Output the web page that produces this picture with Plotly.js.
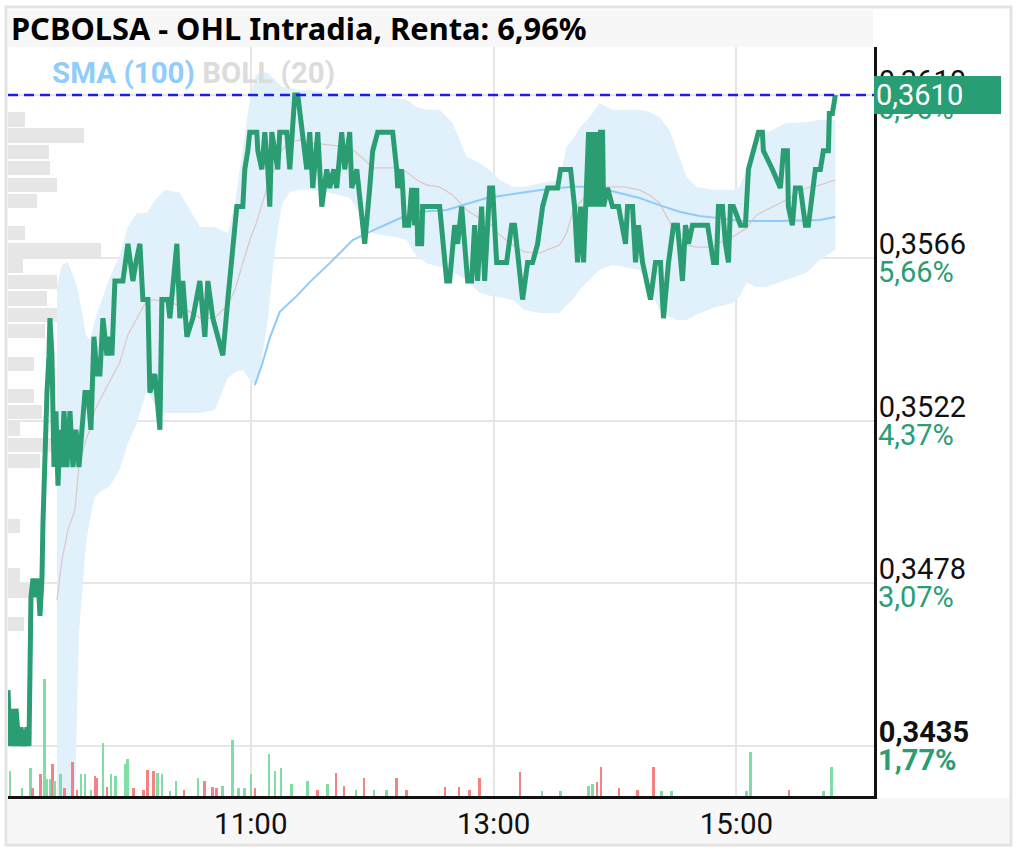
<!DOCTYPE html>
<html><head><meta charset="utf-8">
<script src="https://cdn.plot.ly/plotly-3.0.1.min.js"></script>
<style>html,body{margin:0;padding:0;background:#fff}#chart{width:1017px;height:851px}</style>
</head><body><div id="chart"></div>
<script>
const DAY = '2023-05-10 ';
const chartTitle = 'PCBOLSA - OHL Intradia, Renta: 6,96%';
const legendSMA = 'SMA (100)';
const legendBOLL = 'BOLL (20)';
const lastPrice = 0.3610;
const lastPriceLabel = '0,3610';

const priceTimes = ['09:00:00','09:00:59','09:01:59','09:02:58','09:03:57','09:05:26','09:06:25','09:07:54','09:09:23','09:10:22',
'09:11:21','09:12:21','09:13:50','09:14:49','09:15:48','09:16:47','09:17:17','09:18:16','09:19:16','09:20:15',
'09:20:44','09:21:44','09:22:43','09:23:42','09:24:42','09:25:41','09:26:40','09:27:39','09:29:08','09:30:37',
'09:32:06','09:33:35','09:35:04','09:36:33','09:38:02','09:39:30','09:40:59','09:42:28','09:43:57','09:45:26',
'09:46:55','09:48:53','09:50:22','09:51:22','09:52:50','09:55:48','09:56:47','09:59:16','10:01:44','10:03:13',
'10:05:11','10:06:40','10:09:08','10:10:07','10:12:36','10:15:04','10:16:03','10:19:01','10:20:00','10:23:27',
'10:24:56','10:26:25','10:28:24','10:31:22','10:34:49','10:37:17','10:38:46','10:41:14','10:43:42','10:46:10',
'10:48:39','10:51:07','10:53:05','10:56:03','10:57:02','10:58:31','10:59:30','11:02:58','11:03:28','11:05:26',
'11:06:55','11:08:24','11:09:23','11:10:22','11:13:20','11:14:19','11:16:48','11:17:47','11:19:16','11:20:15',
'11:21:44','11:23:13','11:25:11','11:27:39','11:29:08','11:30:37','11:33:05','11:35:04','11:37:32','11:39:01',
'11:40:59','11:42:28','11:44:56','11:46:25','11:48:53','11:49:53','11:52:21','11:53:20','11:56:18','11:58:46',
'12:00:15','12:02:43','12:10:08','12:12:06','12:12:36','12:14:34','12:16:03','12:18:02','12:19:31','12:20:59',
'12:21:59','12:22:28','12:24:27','12:24:56','12:31:51','12:33:20','12:36:48','12:38:16','12:40:45','12:42:14',
'12:44:12','12:47:10','12:49:08','12:50:37','12:52:06','12:54:05','12:55:34','12:58:02','12:59:31','13:01:30',
'13:06:26','13:08:54','13:10:23','13:14:20','13:16:49','13:19:17','13:21:45','13:24:13','13:26:41','13:31:37',
'13:33:06','13:38:03','13:40:01','13:41:30','13:42:59','13:44:28','13:46:56','13:47:55','13:48:55','13:49:54',
'13:50:53','13:51:52','13:52:52','13:53:51','13:54:20','13:56:18','13:58:47','14:01:45','14:05:12','14:06:12',
'14:08:40','14:10:09','14:11:37','14:13:36','14:17:33','14:20:01','14:22:29','14:23:58','14:26:27','14:28:55',
'14:30:53','14:33:21','14:34:50','14:36:19','14:38:18','14:39:47','14:45:46','14:48:40','14:50:08','14:51:07',
'14:53:06','14:54:35','14:56:04','14:57:03','14:58:32','15:01:59','15:04:27','15:05:56','15:08:24','15:10:53',
'15:12:51','15:13:21','15:17:47','15:21:44','15:23:13','15:25:12','15:25:41','15:27:40','15:29:09','15:31:37',
'15:34:05','15:35:34','15:39:01','15:41:30','15:42:58','15:45:27','15:45:56','15:47:25','15:48:54'];

const prices = [0.3450,0.3435,0.3445,0.3435,0.3445,0.3435,0.3440,0.3435,0.3440,0.3435,
0.3475,0.3480,0.3475,0.3480,0.3470,0.3480,0.3495,0.3515,0.3530,0.3540,
0.3550,0.3540,0.3510,0.3525,0.3505,0.3520,0.3510,0.3525,0.3510,0.3525,
0.3510,0.3520,0.3510,0.3520,0.3530,0.3530,0.3520,0.3545,0.3535,0.3535,
0.3550,0.3540,0.3545,0.3540,0.3560,0.3560,0.3560,0.3570,0.3560,0.3565,
0.3570,0.3555,0.3555,0.3530,0.3535,0.3520,0.3555,0.3555,0.3550,0.3570,
0.3550,0.3560,0.3545,0.3550,0.3560,0.3545,0.3560,0.3550,0.3545,0.3540,
0.3555,0.3570,0.3580,0.3580,0.3590,0.3595,0.3600,0.3600,0.3595,0.3590,
0.3600,0.3590,0.3580,0.3600,0.3590,0.3600,0.3600,0.3600,0.3590,0.3600,
0.3610,0.3610,0.3600,0.3590,0.3600,0.3585,0.3600,0.3580,0.3590,0.3585,
0.3590,0.3585,0.3600,0.3590,0.3600,0.3585,0.3590,0.3585,0.3570,0.3585,
0.3595,0.3600,0.3600,0.3590,0.3585,0.3590,0.3575,0.3575,0.3585,0.3575,
0.3585,0.3570,0.3570,0.3580,0.3580,0.3580,0.3560,0.3560,0.3575,0.3570,
0.3580,0.3560,0.3560,0.3575,0.3560,0.3580,0.3560,0.3585,0.3585,0.3565,
0.3565,0.3575,0.3575,0.3555,0.3565,0.3565,0.3570,0.3580,0.3585,0.3585,
0.3590,0.3590,0.3580,0.3565,0.3580,0.3565,0.3600,0.3580,0.3600,0.3580,
0.3600,0.3580,0.3600,0.3600,0.3580,0.3585,0.3580,0.3580,0.3570,0.3580,
0.3580,0.3565,0.3575,0.3565,0.3555,0.3565,0.3565,0.3550,0.3565,0.3575,
0.3575,0.3560,0.3575,0.3570,0.3575,0.3575,0.3575,0.3565,0.3565,0.3580,
0.3580,0.3570,0.3565,0.3580,0.3580,0.3575,0.3575,0.3590,0.3595,0.3600,
0.3600,0.3595,0.3590,0.3585,0.3595,0.3595,0.3580,0.3575,0.3585,0.3585,
0.3575,0.3575,0.3590,0.3590,0.3595,0.3595,0.3605,0.3605,0.3610];

const bandTimes = ['09:24:12','09:26:40','09:29:38','09:33:05','09:35:04','09:38:31','09:40:30','09:42:58','09:45:26','09:50:22',
'09:55:19','09:59:16','10:03:42','10:08:39','10:12:36','10:17:32','10:24:56','10:29:53','10:34:49','10:42:13',
'10:48:39','10:52:06','10:56:03','10:59:30','11:02:28','11:05:26','11:08:24','11:11:51','11:15:19','11:19:16',
'11:24:12','11:29:08','11:39:01','11:48:53','11:56:18','12:00:15','12:03:42','12:11:07','12:17:02','12:21:59',
'12:26:55','12:33:20','12:39:45','12:46:40','12:53:05','12:58:02','13:02:58','13:09:23','13:15:19','13:22:43',
'13:32:36','13:36:03','13:39:01','13:42:28','13:47:25','13:52:21','13:58:46','14:04:42','14:12:06','14:17:02',
'14:21:58','14:26:55','14:30:22','14:35:19','14:40:15','14:48:09','14:54:05','14:58:02','15:01:29','15:04:57',
'15:09:53','15:14:49','15:24:42','15:34:35','15:41:00','15:48:54'];

const bandUpper = [0.35589,0.35643,0.35651,0.35603,0.35562,0.35455,0.35441,0.35495,0.35535,0.35611,
0.35670,0.35745,0.35783,0.35783,0.35818,0.35845,0.35837,0.35791,0.35745,0.35745,
0.35729,0.35804,0.35952,0.36087,0.36154,0.36162,0.36159,0.36140,0.36122,0.36119,
0.36113,0.36113,0.36105,0.36105,0.36105,0.36103,0.36097,0.36092,0.36087,0.36068,
0.36060,0.36060,0.36025,0.35933,0.35917,0.35898,0.35872,0.35853,0.35853,0.35863,
0.35872,0.35960,0.35979,0.36011,0.36041,0.36078,0.36060,0.36060,0.36060,0.36054,
0.36041,0.36006,0.35952,0.35880,0.35853,0.35845,0.35845,0.35845,0.35853,0.35898,
0.35979,0.35998,0.36025,0.36027,0.36033,0.36033];

const bandMid = [0.34742,0.34850,0.34931,0.34984,0.35105,0.35173,0.35200,0.35253,0.35280,0.35329,
0.35382,0.35455,0.35501,0.35549,0.35549,0.35544,0.35535,0.35517,0.35501,0.35501,
0.35535,0.35576,0.35651,0.35710,0.35751,0.35804,0.35858,0.35904,0.35952,0.35974,
0.35979,0.35971,0.35966,0.35960,0.35925,0.35904,0.35904,0.35904,0.35893,0.35872,
0.35858,0.35853,0.35831,0.35791,0.35769,0.35756,0.35724,0.35697,0.35678,0.35675,
0.35697,0.35729,0.35783,0.35810,0.35837,0.35853,0.35853,0.35853,0.35845,0.35831,
0.35810,0.35759,0.35724,0.35697,0.35691,0.35691,0.35710,0.35718,0.35729,0.35742,
0.35777,0.35791,0.35818,0.35850,0.35858,0.35872];

const bandLower = [0.33896,0.34057,0.34205,0.34205,0.34654,0.34893,0.34960,0.35019,0.35033,0.35049,
0.35095,0.35164,0.35218,0.35307,0.35267,0.35245,0.35245,0.35245,0.35245,0.35253,
0.35339,0.35355,0.35361,0.35334,0.35320,0.35388,0.35495,0.35683,0.35804,0.35839,
0.35845,0.35845,0.35837,0.35823,0.35764,0.35729,0.35724,0.35718,0.35710,0.35665,
0.35648,0.35638,0.35624,0.35603,0.35568,0.35560,0.35557,0.35549,0.35522,0.35514,
0.35514,0.35535,0.35549,0.35576,0.35603,0.35630,0.35643,0.35638,0.35630,0.35584,
0.35522,0.35503,0.35495,0.35495,0.35509,0.35527,0.35535,0.35541,0.35557,0.35595,
0.35584,0.35584,0.35603,0.35622,0.35656,0.35683];

const smaTimes = ['11:01:59','11:05:26','11:09:23','11:14:19','11:22:43','11:29:08','11:39:01','11:45:26','11:50:22','11:58:46',
'12:07:10','12:15:04','12:23:27','12:36:48','12:46:40','12:56:32','13:06:26','13:16:17','13:26:41','13:39:01',
'13:47:25','13:55:48','14:03:42','14:12:06','14:21:58','14:31:51','14:41:45','14:51:38','15:01:29','15:21:14',
'15:41:00','15:48:54'];
const smaValues = [0.35320,0.35374,0.35447,0.35517,0.35560,0.35597,0.35648,0.35683,0.35710,0.35732,
0.35753,0.35772,0.35786,0.35791,0.35807,0.35823,0.35831,0.35839,0.35847,0.35853,
0.35853,0.35845,0.35834,0.35823,0.35804,0.35786,0.35775,0.35769,0.35761,0.35761,
0.35764,0.35772];

const volTimes = ['09:01','09:07','09:11','09:12','09:16','09:18','09:19','09:21','09:22','09:23',
'09:26','09:28','09:32','09:34','09:36','09:38','09:41','09:43','09:44','09:47',
'09:49','09:51','09:53','09:58','09:59','10:02','10:07','10:09','10:12','10:14',
'10:16','10:20','10:23','10:27','10:34','10:37','10:41','10:43','10:46','10:51',
'10:54','10:57','11:00','11:02','11:09','11:12','11:15','11:20','11:28','11:33',
'11:38','11:42','11:46','11:52','11:56','12:01','12:07','12:12','12:17','12:36',
'12:43','12:48','12:53','13:13','13:24','13:33','13:47','13:49','13:51','13:53',
'14:02','14:11','14:19','14:23','14:28','15:05','15:07','15:26','15:43','15:47'];
const volumes = [25000,8000,28000,8000,22000,117000,17000,17000,32000,15000,
22000,8000,34000,6000,22000,22000,6000,20000,18000,53000,
9000,22000,20000,32000,37000,8000,6000,26000,25000,23000,
22000,5000,15000,6000,18000,15000,9000,8000,10000,56000,
8000,8000,22000,8000,42000,25000,28000,12000,15000,6000,
12000,23000,10000,6000,18000,6000,6000,18000,6000,9000,
9000,6000,18000,24000,5000,5000,10000,12000,14000,29000,
8000,6000,29000,5000,5000,5000,44000,6000,5000,29000];
const volDir = [1,1,1,-1,-1,1,1,1,-1,1,
1,-1,-1,-1,1,1,1,-1,-1,1,
-1,1,1,1,1,-1,-1,-1,-1,1,
1,1,1,-1,1,-1,-1,-1,1,1,
1,1,1,-1,1,1,1,1,1,-1,
1,-1,-1,1,-1,1,1,-1,-1,-1,
-1,-1,-1,-1,1,1,1,1,-1,-1,
-1,-1,-1,1,1,1,1,-1,1,1];

const profilePrices = [0.36034,0.35991,0.35947,0.35903,0.35859,0.35816,0.35728,0.35684,0.35641,0.35597,
0.35553,0.35509,0.35466,0.35378,0.35291,0.35247,0.35203,0.35159,0.35116,0.34941,0.34809,0.34766,0.34678];
const profileVolumes = [170000,760000,410000,420000,490000,290000,170000,930000,150000,490000,
390000,550000,370000,260000,260000,340000,120000,430000,320000,120000,120000,230000,160000];

const tickPrices = [0.3435,0.347875,0.35225,0.356625,0.3610];
const tickPriceLabels = ['0,3435','0,3478','0,3522','0,3566','0,3610'];
const tickPctLabels = ['1,77%','3,07%','4,37%','5,66%','6,96%'];
const timeTicks = ['11:00','13:00','15:00'];

const GREEN = '#2a9d72';
const T = a => a.map(t => DAY + (t.length === 5 ? t + ':00' : t));
const priceTickText = tickPriceLabels.map((s, i) => i === 0 ? '<b>' + s + '</b>' : s);
const pctTickText = tickPctLabels.map((s, i) => i === 0 ? '<b>' + s + '</b>' : s);

const traces = [
  {type:'bar', orientation:'h', x:profileVolumes, y:profilePrices, xaxis:'x', yaxis:'y',
   width:0.00038, marker:{color:'#e6e6e6'}, hoverinfo:'skip'},
  {type:'scatter', mode:'lines', x:T(bandTimes), y:bandUpper, xaxis:'x2', yaxis:'y2',
   line:{width:0, color:'rgba(0,0,0,0)'}, hoverinfo:'skip'},
  {type:'scatter', mode:'lines', x:T(bandTimes), y:bandLower, xaxis:'x2', yaxis:'y2',
   line:{width:0, color:'rgba(0,0,0,0)'}, fill:'tonexty', fillcolor:'#e1f1fc', hoverinfo:'skip'},
  {type:'scatter', mode:'lines', x:T(bandTimes), y:bandMid, xaxis:'x2', yaxis:'y2',
   line:{width:1.3, color:'#dcc9c9'}, hoverinfo:'skip'},
  {type:'scatter', mode:'lines', x:T(smaTimes), y:smaValues, xaxis:'x2', yaxis:'y2',
   line:{width:2, color:'#90caf9'}, hoverinfo:'skip'},
  {type:'scatter', mode:'lines', x:T(priceTimes), y:prices, xaxis:'x2', yaxis:'y2',
   line:{width:5, color:GREEN}, hoverinfo:'skip'},
  {type:'bar', x:T(volTimes), y:volumes, xaxis:'x2', yaxis:'y3', width:75000,
   marker:{color:volDir.map(d => d > 0 ? '#80dea5' : '#f58282')}, hoverinfo:'skip'}
];

const W = 866, H = 749, L = 8, TOP = 47;
const px = x => (x - L) / W, py = y => (TOP + H - y) / H;
const Y_RANGE = [0.342156, 0.36229];

const layout = {
  width:1017, height:851,
  margin:{l:8, r:143, t:47, b:55, pad:0},
  paper_bgcolor:'#ffffff', plot_bgcolor:'#ffffff',
  showlegend:false, hovermode:false, bargap:0,
  font:{family:'Roboto, sans-serif', color:'#111'},
  xaxis:{range:[0, 8660000], visible:false, fixedrange:true},
  xaxis2:{type:'date', overlaying:'x', anchor:'y', side:'bottom',
    range:[DAY + '09:00:00', DAY + '16:08:00'],
    tickvals:T(timeTicks), ticktext:timeTicks, tickmode:'array',
    showgrid:true, gridcolor:'#e6e6e6', gridwidth:2,
    showline:true, linecolor:'#111', linewidth:3, ticks:'', zeroline:false,
    tickfont:{size:29.5, color:'#111', family:'Roboto'}},
  yaxis:{side:'right', range:Y_RANGE, tickmode:'array',
    tickvals:tickPrices, ticktext:priceTickText,
    showgrid:true, gridcolor:'#e6e6e6', gridwidth:2,
    showline:true, linecolor:'#111', linewidth:3, ticks:'', zeroline:false,
    ticklabelshift:-14, ticklabelstandoff:-4,
    tickfont:{size:29, color:'#111', family:'Roboto'}},
  yaxis2:{overlaying:'y', side:'right', anchor:'x2', range:Y_RANGE, tickmode:'array',
    tickvals:tickPrices, ticktext:pctTickText,
    showgrid:false, showline:false, ticks:'', zeroline:false,
    ticklabelshift:14, ticklabelstandoff:3,
    tickfont:{size:29, color:GREEN, family:'Roboto'}},
  yaxis3:{overlaying:'y', anchor:'x2', range:[0, 749000], visible:false},
  shapes:[
    {type:'rect', xref:'paper', yref:'paper', x0:px(8), x1:px(873), y0:py(47), y1:py(10),
     fillcolor:'#f7f7f7', line:{width:0}, layer:'below'},
    {type:'rect', xref:'paper', yref:'paper', x0:px(8), x1:px(1010), y0:py(843), y1:py(798),
     fillcolor:'#f7f7f7', line:{width:0}, layer:'below'},
    {type:'rect', xref:'paper', yref:'paper', x0:px(6), x1:px(1011), y0:py(845), y1:py(7),
     fillcolor:'rgba(0,0,0,0)', line:{width:3, color:'#e3e3e3'}, layer:'above'},
    {type:'line', xref:'paper', yref:'y', x0:0, x1:1, y0:lastPrice, y1:lastPrice,
     line:{color:'#1c1cf0', width:2.5, dash:'10px,6px'}, layer:'above'}
  ],
  annotations:[
    {xref:'paper', yref:'paper', x:px(9), y:py(28), xanchor:'left', yanchor:'middle',
     text:'<b>' + chartTitle + '</b>', showarrow:false,
     font:{family:'Noto Sans', size:30.8, color:'#000'}},
    {xref:'paper', yref:'paper', x:px(50), y:py(73), xanchor:'left', yanchor:'middle',
     text:'<b><span style="color:#90cdf9">' + legendSMA + '</span> <span style="color:#dcdcdc">' + legendBOLL + '</span></b>',
     showarrow:false, font:{family:'Roboto', size:29.5}},
    {xref:'paper', yref:'y', x:1, y:lastPrice, xanchor:'left', yanchor:'middle',
     text:lastPriceLabel, showarrow:false, bgcolor:'#279e74', borderpad:2, borderwidth:0,
     width:123, height:34, align:'left',
     font:{family:'Roboto', size:29, color:'#ffffff'}}
  ]
};

Plotly.newPlot('chart', traces, layout, {displayModeBar:false, staticPlot:true});
</script>
</body></html>
